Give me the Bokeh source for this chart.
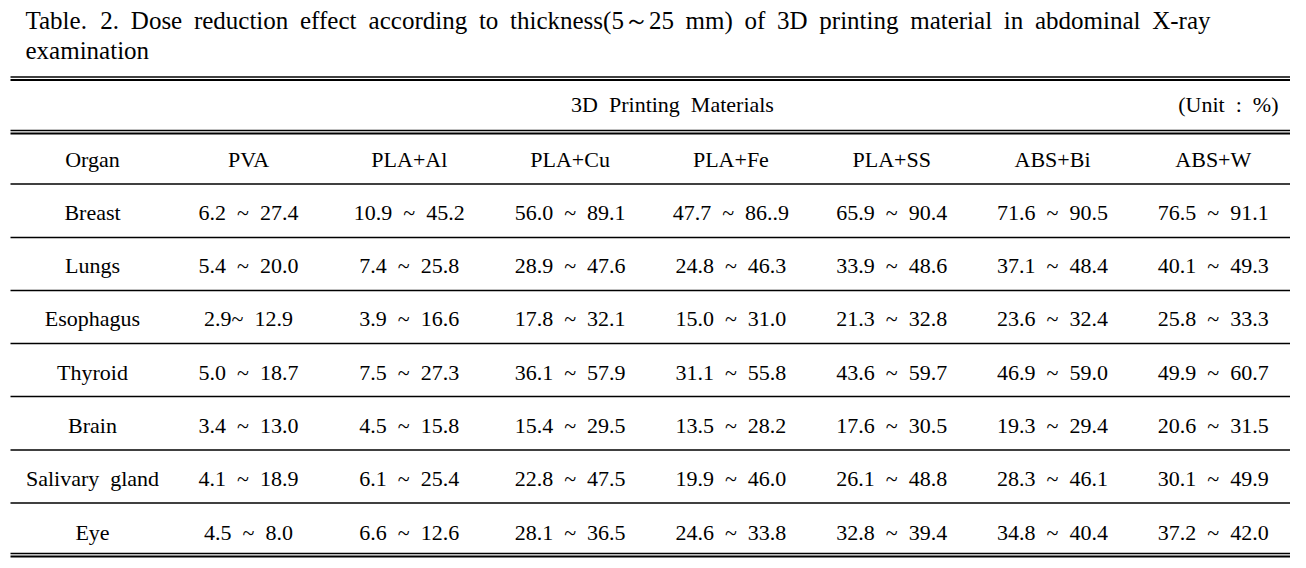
from bokeh.plotting import figure
from bokeh.models import Range1d
from bokeh.embed import file_html
from bokeh.resources import INLINE
from bokeh.core.properties import value

# ---------------- data ----------------
organs = ["Breast", "Lungs", "Esophagus", "Thyroid", "Brain", "Salivary gland", "Eye"]
materials = ["PVA", "PLA+Al", "PLA+Cu", "PLA+Fe", "PLA+SS", "ABS+Bi", "ABS+W"]

pva_low = ["6.2", "5.4", "2.9", "5.0", "3.4", "4.1", "4.5"]
pva_high = ["27.4", "20.0", "12.9", "18.7", "13.0", "18.9", "8.0"]
pla_al_low = ["10.9", "7.4", "3.9", "7.5", "4.5", "6.1", "6.6"]
pla_al_high = ["45.2", "25.8", "16.6", "27.3", "15.8", "25.4", "12.6"]
pla_cu_low = ["56.0", "28.9", "17.8", "36.1", "15.4", "22.8", "28.1"]
pla_cu_high = ["89.1", "47.6", "32.1", "57.9", "29.5", "47.5", "36.5"]
pla_fe_low = ["47.7", "24.8", "15.0", "31.1", "13.5", "19.9", "24.6"]
pla_fe_high = ["86..9", "46.3", "31.0", "55.8", "28.2", "46.0", "33.8"]
pla_ss_low = ["65.9", "33.9", "21.3", "43.6", "17.6", "26.1", "32.8"]
pla_ss_high = ["90.4", "48.6", "32.8", "59.7", "30.5", "48.8", "39.4"]
abs_bi_low = ["71.6", "37.1", "23.6", "46.9", "19.3", "28.3", "34.8"]
abs_bi_high = ["90.5", "48.4", "32.4", "59.0", "29.4", "46.1", "40.4"]
abs_w_low = ["76.5", "40.1", "25.8", "49.9", "20.6", "30.1", "37.2"]
abs_w_high = ["91.1", "49.3", "33.3", "60.7", "31.5", "49.9", "42.0"]

title_line1 = ["Table.", "2.", "Dose", "reduction", "effect", "according", "to",
               "thickness(5\uff5e25", "mm)", "of", "3D", "printing", "material",
               "in", "abdominal", "X-ray"]
title_line2 = "examination"
group_header = "3D Printing Materials"
unit_label = "(Unit : %)"
organ_header = "Organ"
# the original prints this one cell without a leading space
special_cells = {("Esophagus", "PVA"): "2.9~ 12.9"}

# ---------------- layout ----------------
W, H = 1290, 560
FONT = value("Liberation Serif")
BODY = value("22px")
TITLE_PX = 25
WIDE = " \u00a0"  # the source typeface sets wider word spaces

# approximate Times-metric advance widths (per 1000 em) for justifying the title
ADV = {"T": 611, "a": 444, "b": 500, "l": 278, "e": 444, ".": 250, "2": 500, "D": 722,
       "o": 500, "s": 389, "r": 333, "d": 500, "u": 500, "c": 444, "t": 278, "i": 278,
       "n": 500, "f": 333, "g": 500, "h": 500, "k": 500, "(": 333, "5": 500,
       "\uff5e": 1000, "m": 778, ")": 333, "3": 500, "p": 500, "X": 722, "-": 333,
       "y": 500}


def word_width(w):
    return sum(ADV.get(ch, 500) for ch in w) * TITLE_PX / 1000.0


lows = [pva_low, pla_al_low, pla_cu_low, pla_fe_low, pla_ss_low, abs_bi_low, abs_w_low]
highs = [pva_high, pla_al_high, pla_cu_high, pla_fe_high, pla_ss_high, abs_bi_high, abs_w_high]

p = figure(width=W, height=H, output_backend="svg", toolbar_location=None,
           x_range=Range1d(0, W), y_range=Range1d(H, 0), min_border=0)
p.axis.visible = False
p.grid.visible = False
p.outline_line_color = None
p.background_fill_color = "white"
p.border_fill_color = "white"

# title: first line justified between left and right edges
tl, tr = 25, 1210
widths = [word_width(w) for w in title_line1]
gap = (tr - tl - sum(widths)) / (len(title_line1) - 1)
title_x, cx = [], tl
for wdt in widths:
    title_x.append(cx)
    cx += wdt + gap
p.text(x=title_x, y=[20] * len(title_line1), text=title_line1,
       text_font=FONT, text_font_size=value(f"{TITLE_PX}px"), text_color="black",
       text_align="left", text_baseline="alphabetic")
p.text(x=[tl], y=[50], text=[title_line2],
       text_font=FONT, text_font_size=value(f"{TITLE_PX}px"), text_color="black",
       text_align="left", text_baseline="alphabetic")

# rules
x0, x1 = 10, 1290
thin_y = [76.5, 130, 183.5, 237, 290, 343, 396, 449.5, 502.5, 553]
thick_y = [79.5, 133, 556]
p.segment(x0=[x0] * len(thin_y), x1=[x1] * len(thin_y), y0=thin_y, y1=thin_y,
          line_color="black", line_width=1.6)
p.segment(x0=[x0] * len(thick_y), x1=[x1] * len(thick_y), y0=thick_y, y1=thick_y,
          line_color="black", line_width=2.2)

# header band
p.text(x=[672], y=[104], text=[group_header.replace(" ", WIDE)], text_font=FONT,
       text_font_size=BODY, text_align="center", text_baseline="alphabetic",
       text_color="black")
p.text(x=[1278], y=[104], text=[unit_label.replace(" ", WIDE)], text_font=FONT,
       text_font_size=BODY, text_align="right", text_baseline="alphabetic",
       text_color="black")

organ_cx = 92
col0, pitch = 248, 160.8
row0, rpitch = 158.5, 53.3

hx = [organ_cx] + [col0 + i * pitch for i in range(len(materials))]
p.text(x=hx, y=[row0] * len(hx), text=[organ_header] + materials, text_font=FONT,
       text_font_size=BODY, text_align="center", text_baseline="alphabetic",
       text_color="black")

xs, ys, ts = [], [], []
for r, organ in enumerate(organs):
    yb = row0 + (r + 1) * rpitch
    xs.append(organ_cx); ys.append(yb); ts.append(organ.replace(" ", WIDE))
    for c, mat in enumerate(materials):
        txt = special_cells.get((organ, mat), f"{lows[c][r]} ~ {highs[c][r]}")
        xs.append(col0 + c * pitch); ys.append(yb); ts.append(txt.replace(" ", WIDE))
p.text(x=xs, y=ys, text=ts, text_font=FONT, text_font_size=BODY,
       text_align="center", text_baseline="alphabetic", text_color="black")

open("out.html", "w").write(file_html(p, INLINE))
